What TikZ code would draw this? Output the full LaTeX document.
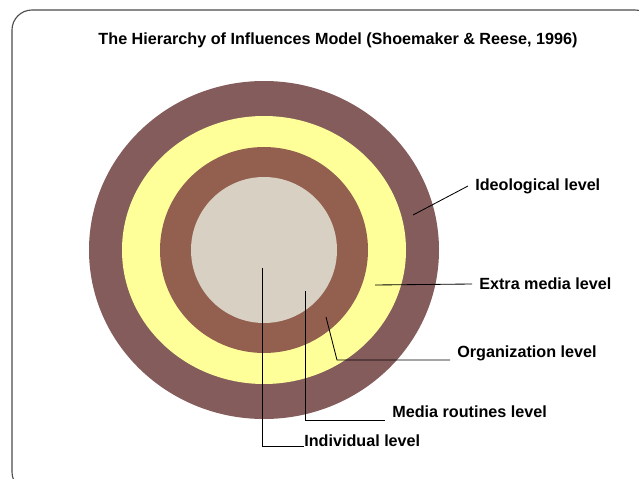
\documentclass[tikz,border=0pt]{standalone}
\usepackage{fontspec}
\setmainfont{Liberation Sans}

\definecolor{ideocol}{RGB}{133,92,92}
\definecolor{extracol}{RGB}{255,255,153}
\definecolor{orgcol}{RGB}{147,96,80}
\definecolor{indivcol}{RGB}{216,208,194}

\begin{document}
\begin{tikzpicture}[x=0.025cm, y=-0.025cm,
  level/.style={font=\fontsize{11.5}{13}\selectfont\bfseries, inner xsep=5pt, inner ysep=0pt, anchor=west},
  leader/.style={draw=black, line width=0.6pt}]
\useasboundingbox (0,0) rectangle (639,479);
\draw[draw=black!70, line width=0.8pt, rounded corners=0.5cm] (12,10) rectangle (655,492);

\node[font=\fontsize{11.5}{13}\selectfont\bfseries] (title) at (338,40) {The Hierarchy of Influences Model (Shoemaker \& Reese, 1996)};

\fill[ideocol] (264,250) ellipse [x radius=175, y radius=169];
\fill[extracol] (264,250) ellipse [x radius=142, y radius=134];
\fill[orgcol] (264,250) ellipse [x radius=104, y radius=103];
\fill[indivcol] (264,250) ellipse [x radius=73, y radius=73];

\coordinate (ideoring) at (413,215);
\coordinate (extraring) at (375,285);
\coordinate (orgring) at (326,317);
\coordinate (orgbend) at (337,360);
\coordinate (rtring) at (305,291);
\coordinate (rtbend) at (305,420);
\coordinate (indring) at (262,268);
\coordinate (indbend) at (262,446);

\node[level] (ideo) at (468,186) {Ideological level};
\node[level] (extra) at (472,284) {Extra media level};
\node[level] (org) at (450,353) {Organization level};
\node[level] (routines) at (385,412) {Media routines level};
\node[level, inner xsep=0pt] (indiv) at (304,441) {Individual level};

\draw[leader] (ideoring) -- (ideo.west);
\draw[leader] (extraring) -- (extra.west);
\draw[leader] (orgring) -- (orgbend) -- (orgbend -| org.west);
\draw[leader] (rtring) -- (rtbend) -- (rtbend -| routines.west);
\draw[leader] (indring) -- (indbend) -- (indbend -| indiv.west);
\end{tikzpicture}
\end{document}
